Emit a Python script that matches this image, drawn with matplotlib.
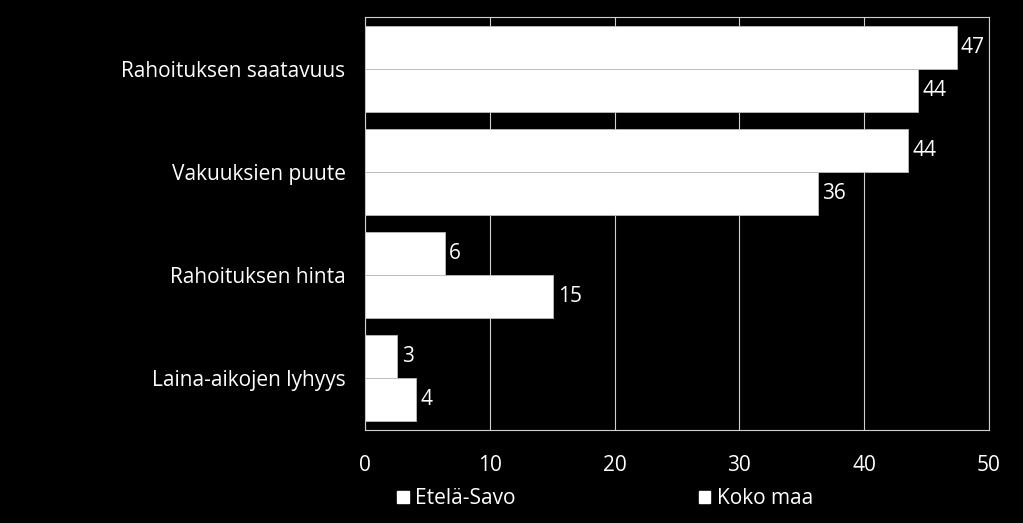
import matplotlib.pyplot as plt
import numpy as np
from matplotlib.patches import Patch

categories = ['Rahoituksen saatavuus', 'Vakuuksien puute', 'Rahoituksen hinta', 'Laina-aikojen lyhyys']
etela_savo = [47.4, 43.5, 6.4, 2.6]
koko_maa = [44.3, 36.3, 15.1, 4.1]
series_names = ['Etelä-Savo', 'Koko maa']
xticks = [0, 10, 20, 30, 40, 50]

plt.rcParams['font.family'] = ['Open Sans', 'DejaVu Sans']

fig = plt.figure(figsize=(10.23, 5.23), dpi=100, facecolor='black')
ax = fig.add_axes([365 / 1023, 1 - 430 / 523, (989 - 365) / 1023, (430 - 17) / 523])
ax.set_facecolor('black')

y = np.arange(len(categories))
h = 0.417
b1 = ax.barh(y - h / 2, etela_savo, height=h, color='white', edgecolor='#bbbbbb', linewidth=0.6, zorder=3)
b2 = ax.barh(y + h / 2, koko_maa, height=h, color='white', edgecolor='#bbbbbb', linewidth=0.6, zorder=3)

for bars, vals in ((b1, etela_savo), (b2, koko_maa)):
    for bar, v in zip(bars, vals):
        ax.text(v + 0.35, bar.get_y() + bar.get_height() / 2, f'{round(v)}',
                color='white', fontsize=15, va='center', ha='left', zorder=4)

ax.set_ylim(len(categories) - 0.5, -0.5)
ax.set_xlim(0, 50)
ax.set_xticks(xticks)
ax.set_yticks(y)
ax.set_yticklabels(categories)
ax.tick_params(axis='both', colors='white', labelsize=15, length=0)
ax.tick_params(axis='x', pad=18)
ax.tick_params(axis='y', pad=14)
ax.grid(axis='x', color='#d0d0d0', linewidth=0.8, zorder=1)
for s in ax.spines.values():
    s.set_color('#d0d0d0')
    s.set_linewidth(0.8)

handles = [Patch(facecolor='white', edgecolor='white', label=n) for n in series_names]
leg = fig.legend(handles=handles, loc='center', bbox_to_anchor=(605 / 1023, 1 - 499 / 523),
                 ncol=2, frameon=False, fontsize=15, labelcolor='white',
                 handlelength=0.55, handleheight=0.55, handletextpad=0.3, columnspacing=8.8)

fig.savefig('out.png', dpi=100, facecolor='black')
